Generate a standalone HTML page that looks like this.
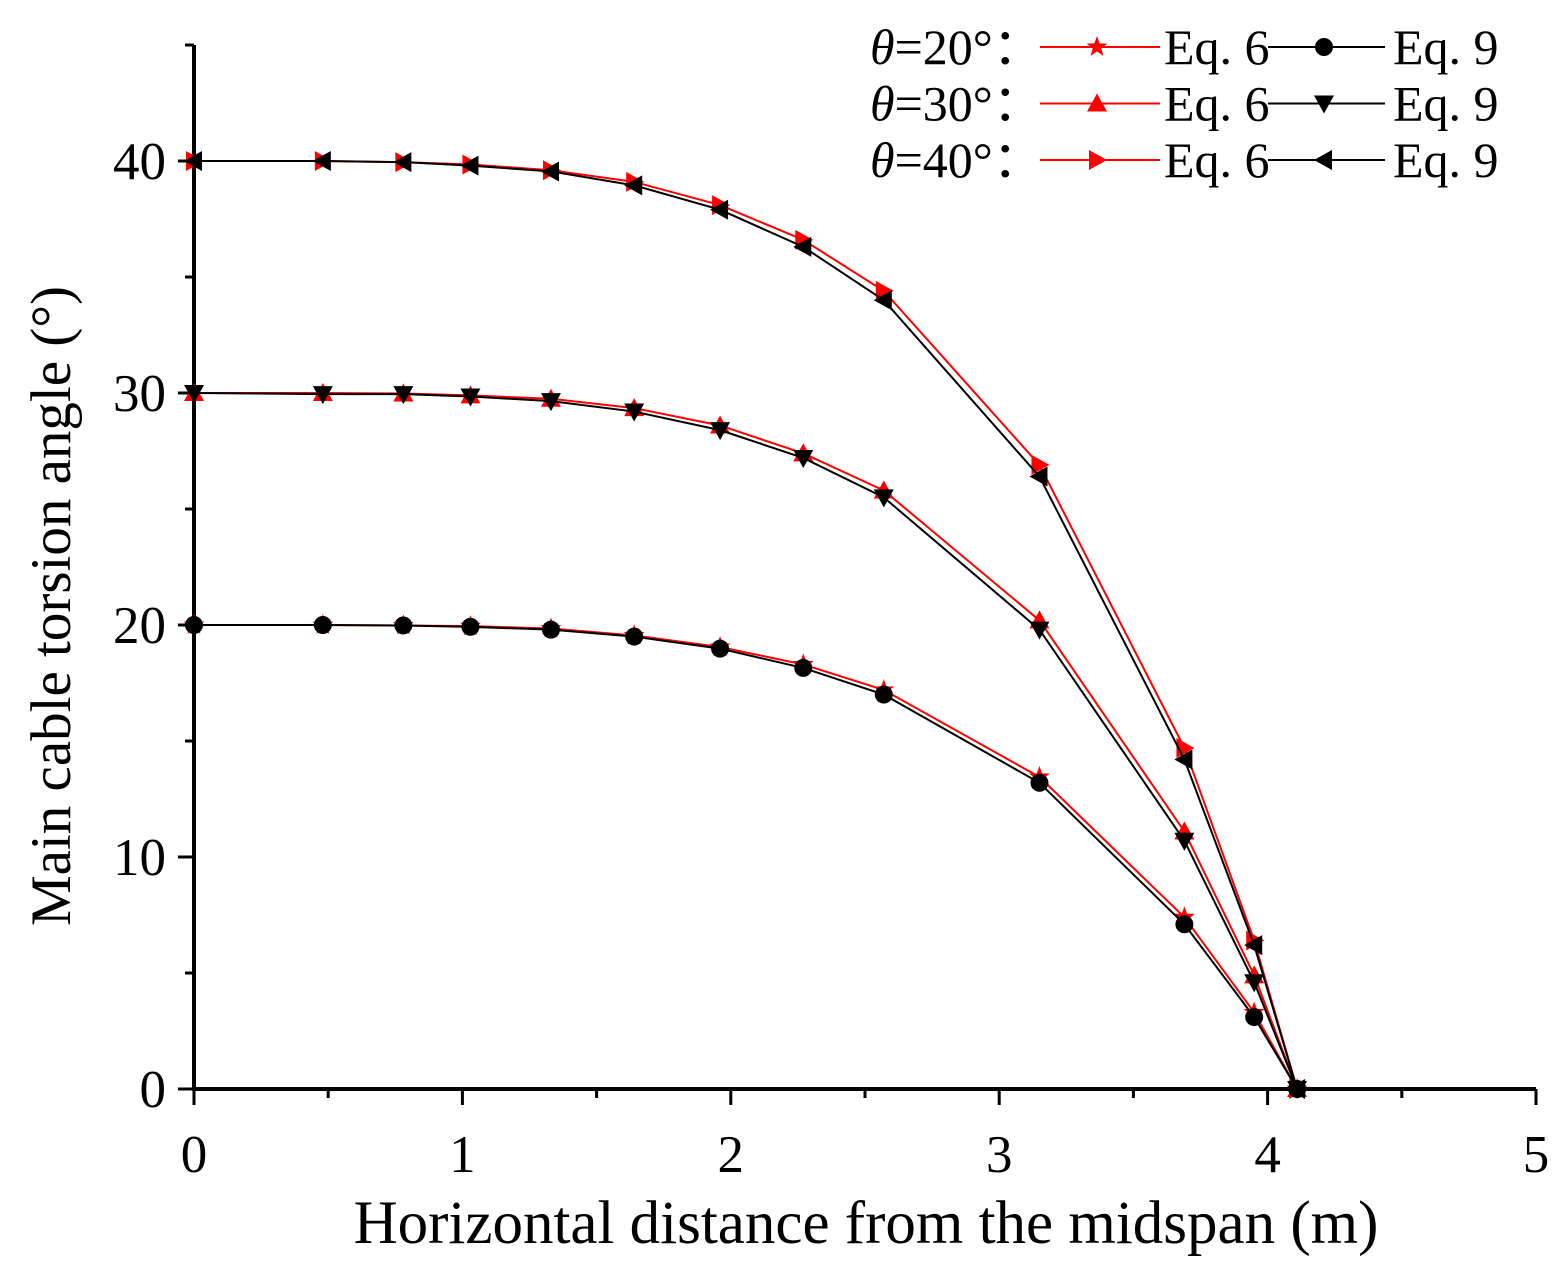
<!DOCTYPE html>
<html><head><meta charset="utf-8"><style>
html,body{margin:0;padding:0;background:#fff;}
svg text{font-family:"Liberation Serif",serif;}
</style></head><body>
<svg id="chart" width="1568" height="1277" viewBox="0 0 1568 1277" xmlns="http://www.w3.org/2000/svg">
<g id="axes"></g>
<g id="series"></g>
<g id="legend"></g>
<text x="866" y="1243" font-size="61" text-anchor="middle">Horizontal distance from the midspan (m)</text>
<text transform="translate(70,606) rotate(-90)" font-size="57" text-anchor="middle">Main cable torsion angle (°)</text>
</svg>
<script>
const xs = [0, 0.48, 0.78, 1.03, 1.33, 1.64, 1.96, 2.27, 2.57, 3.15, 3.69, 3.95, 4.11];
const t40eq6 = [40, 40, 39.95, 39.85, 39.6, 39.1, 38.1, 36.6, 34.4, 26.9, 14.7, 6.4, 0];
const t40eq9 = [40, 40, 39.95, 39.8, 39.55, 38.95, 37.9, 36.3, 34.0, 26.4, 14.2, 6.2, 0];
const t30eq6 = [30, 30, 29.98, 29.9, 29.75, 29.35, 28.6, 27.4, 25.8, 20.2, 11.1, 4.9, 0];
const t30eq9 = [30, 29.95, 29.95, 29.85, 29.65, 29.2, 28.4, 27.2, 25.5, 19.8, 10.7, 4.6, 0];
const t20eq6 = [20, 20, 19.98, 19.95, 19.85, 19.55, 19.05, 18.3, 17.2, 13.45, 7.4, 3.3, 0];
const t20eq9 = [20, 20, 19.98, 19.92, 19.8, 19.5, 18.98, 18.15, 17.0, 13.2, 7.1, 3.1, 0];
const xTicks = [0, 1, 2, 3, 4, 5];
const yTicks = [0, 10, 20, 30, 40];

const NS = "http://www.w3.org/2000/svg";
const X0 = 194, X1 = 1536, Y0 = 1089, YTOP = 45;
const sx = v => X0 + v * (X1 - X0) / 5;
const sy = v => Y0 - v * (1089 - 161) / 40;
function mk(tag, attrs, parent) {
  const e = document.createElementNS(NS, tag);
  for (const k in attrs) e.setAttribute(k, attrs[k]);
  parent.appendChild(e); return e;
}
const axes = document.getElementById('axes');
let el = mk('line', {x1: X0, y1: Y0, x2: X1, y2: Y0, stroke: '#000', 'stroke-width': 4}, axes);


el = mk('line', {x1: X0, y1: Y0 + 2, x2: X0, y2: YTOP, stroke: '#000', 'stroke-width': 4}, axes);


for (let v = 0; v <= 5.001; v += 0.5) {
  const major = Math.abs(v - Math.round(v)) < 1e-6;
  mk('line', {x1: sx(v), y1: Y0, x2: sx(v), y2: Y0 + (major ? 16 : 9), stroke: '#000', 'stroke-width': 3}, axes);
}
xTicks.forEach(v => {
  const t = mk('text', {x: sx(v), y: 1172, 'font-size': 53, 'text-anchor': 'middle'}, axes);
  t.textContent = v;
  
  
});
for (let v = 0; v <= 45; v += 5) {
  const major = v % 10 === 0;
  mk('line', {x1: X0 - (major ? 16 : 9), y1: sy(v), x2: X0, y2: sy(v), stroke: '#000', 'stroke-width': 3}, axes);
}
yTicks.forEach(v => {
  const t = mk('text', {x: 166, y: sy(v) + 18, 'font-size': 53, 'text-anchor': 'end'}, axes);
  t.textContent = v;
  
  
});

function marker(type, cx, cy, color, parent) {
  const s = 10;
  let pts;
  if (type === 'circle') return mk('circle', {cx, cy, r: 9, fill: color}, parent);
  if (type === 'up') pts = [[cx, cy - s], [cx + s, cy + s * 0.8], [cx - s, cy + s * 0.8]];
  if (type === 'down') pts = [[cx, cy + s], [cx + s, cy - s * 0.8], [cx - s, cy - s * 0.8]];
  if (type === 'right') pts = [[cx + s, cy], [cx - s * 0.8, cy - s], [cx - s * 0.8, cy + s]];
  if (type === 'left') pts = [[cx - s, cy], [cx + s * 0.8, cy - s], [cx + s * 0.8, cy + s]];
  if (type === 'star') {
    pts = [];
    for (let i = 0; i < 10; i++) {
      const r = i % 2 ? 4.5 : 11, a = -Math.PI / 2 + i * Math.PI / 5;
      pts.push([cx + r * Math.cos(a), cy + r * Math.sin(a)]);
    }
  }
  return mk('polygon', {points: pts.map(p => p.join(',')).join(' '), fill: color}, parent);
}
const seriesG = document.getElementById('series');
const defs = [
  ['theta20-eq6', t20eq6, '#ff0000', 'star'],
  ['theta30-eq6', t30eq6, '#ff0000', 'up'],
  ['theta40-eq6', t40eq6, '#ff0000', 'right'],
  ['theta20-eq9', t20eq9, '#000', 'circle'],
  ['theta30-eq9', t30eq9, '#000', 'down'],
  ['theta40-eq9', t40eq9, '#000', 'left']
];
defs.forEach(([name, vals, color, m]) => {
  const g = mk('g', {}, seriesG);
  
  
  const ln = mk('polyline', {points: xs.map((x, i) => sx(x) + ',' + sy(vals[i])).join(' '), fill: 'none', stroke: color, 'stroke-width': 2}, g);
  
  
  xs.forEach((x, i) => {
    const p = marker(m, sx(x), sy(vals[i]), color, g);
    
    
  });
});

const legend = document.getElementById('legend');
const rows = [['20', 'star', 'circle'], ['30', 'up', 'down'], ['40', 'right', 'left']];
rows.forEach(([th, m6, m9], i) => {
  const y = 47 + i * 56.5;
  const g = mk('g', {}, legend);
  
  
  const t = mk('text', {x: 870, y: y + 17, 'font-size': 50}, g);
  t.innerHTML = '<tspan font-style="italic">θ</tspan>=' + th + '°：';
  mk('line', {x1: 1040, y1: y, x2: 1160, y2: y, stroke: '#ff0000', 'stroke-width': 2}, g);
  marker(m6, 1097, y, '#ff0000', g);
  const a = mk('text', {x: 1164, y: y + 17, 'font-size': 50}, g); a.textContent = 'Eq. 6';
  mk('line', {x1: 1268, y1: y, x2: 1385, y2: y, stroke: '#000', 'stroke-width': 2}, g);
  marker(m9, 1324, y, '#000', g);
  const b = mk('text', {x: 1393, y: y + 17, 'font-size': 50}, g); b.textContent = 'Eq. 9';
});
</script>
</body></html>
